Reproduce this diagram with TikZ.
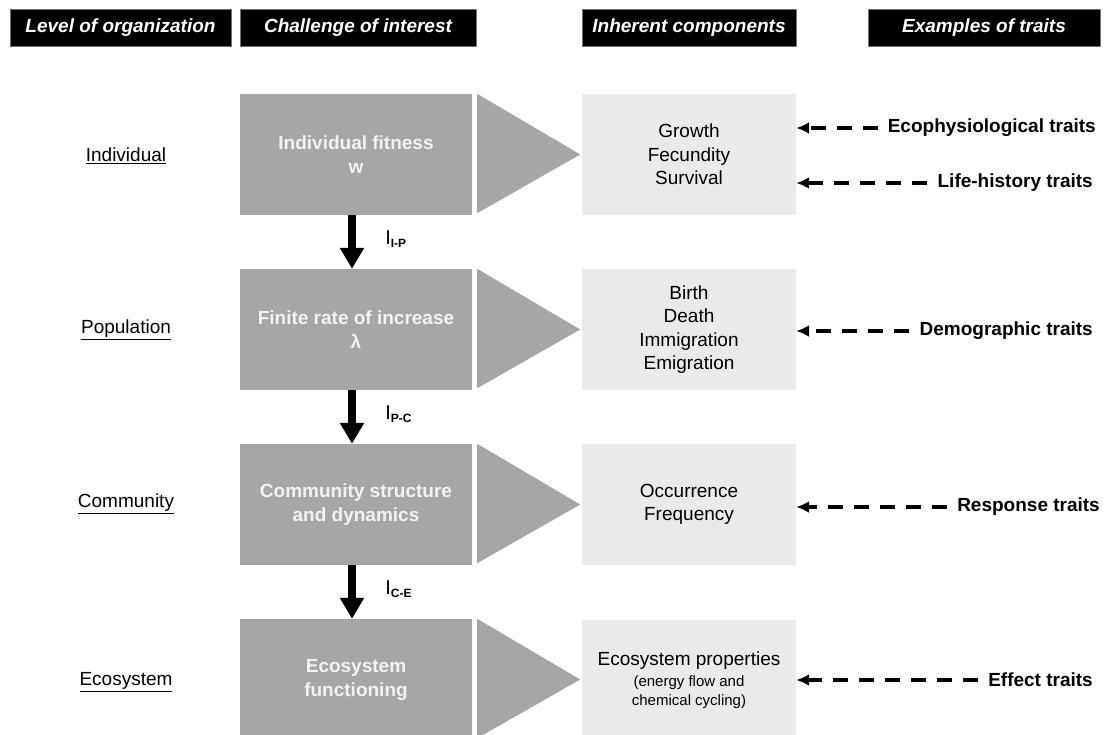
\documentclass[tikz,border=0pt]{standalone}
\usepackage{fontspec}
\setmainfont{Liberation Sans}
\usepackage{tikz}
\usetikzlibrary{arrows.meta, positioning, calc}
\definecolor{challengegray}{RGB}{166,166,166}
\definecolor{componentgray}{RGB}{234,234,234}
\definecolor{challengetext}{RGB}{243,243,243}

\tikzset{
    header/.style={fill=black, draw=black!55, line width=0.8pt, text=white, minimum height=37pt,
          inner sep=0pt, font=\fontsize{19}{22}\selectfont\bfseries\itshape},
    challenge/.style={fill=challengegray, text=challengetext, minimum width=232pt, minimum height=121pt,
          inner sep=0pt, align=center, font=\fontsize{19}{24}\selectfont\bfseries},
    component/.style={fill=componentgray, minimum width=214pt, minimum height=121pt,
          inner sep=0pt, align=center, font=\fontsize{19}{23.5}\selectfont},
    level/.style={font=\fontsize{19}{22}\selectfont},
    trait/.style={anchor=east, inner sep=0pt, font=\fontsize{19}{22}\selectfont\bfseries},
    traitarrow/.style={line width=3.5pt, dash pattern=on 15pt off 11pt, shorten <=10pt,
          -{Latex[length=13pt,width=12pt]}},
    levelarrow/.style={line width=8pt, -{Triangle[length=21pt,width=23pt]}},
}

\begin{document}
\begin{tikzpicture}[x=1pt, y=-1pt]
    \useasboundingbox (0,0) rectangle (1105,735);

    \node[header, minimum width=221pt] (h1) at (120.5,28) {Level of organization};
    \node[header, minimum width=236pt] (h2) at (358,28) {Challenge of interest};
    \node[header, minimum width=214pt] (h3) at (689,28) {Inherent components};
    \node[header, minimum width=232pt] (h4) at (984,28) {Examples of traits};

    \node[level] (l1) at (126,156) {\underline{Individual}};
    \node[level] (l2) at (126,330) {\underline{Population}};
    \node[level] (l3) at (126,504) {\underline{Community}};
    \node[level] (l4) at (126,682) {\underline{Ecosystem}};

    \node[challenge] (g1) at (356,154.5) {Individual fitness\\w};
    \node[challenge] (g2) at (356,329.5) {Finite rate of increase\\λ};
    \node[challenge] (g3) at (356,504.5) {Community structure\\and dynamics};
    \node[challenge] (g4) at (356,679.5) {Ecosystem\\functioning};

    \foreach \n in {1,...,4}
        \fill[challengegray] ($(g\n.north east)+(5,0)$) -- ($(g\n.east)+(108,0)$)
            -- ($(g\n.south east)+(5,-2)$) -- cycle;

    \node[component] (c1) at (689,154.5) {Growth\\Fecundity\\Survival};
    \node[component] (c2) at (689,329.5) {Birth\\Death\\Immigration\\Emigration};
    \node[component] (c3) at (689,504.5) {Occurrence\\Frequency};
    \node[component] (c4) at (689,680.5) {Ecosystem properties\\[-3pt]
        {\fontsize{15}{18}\selectfont (energy flow and}\\[-4pt]
        {\fontsize{15}{18}\selectfont chemical cycling)}};

    \draw[levelarrow] ([xshift=-4pt]g1.south) -- node[midway, right=26pt, yshift=3pt]
        {\fontsize{20}{22}\selectfont I\raisebox{-3pt}{\fontsize{12}{12}\selectfont\bfseries I-P}} ([xshift=-4pt]g2.north);
    \draw[levelarrow] ([xshift=-4pt]g2.south) -- node[midway, right=26pt, yshift=3pt]
        {\fontsize{20}{22}\selectfont I\raisebox{-3pt}{\fontsize{12}{12}\selectfont\bfseries P-C}} ([xshift=-4pt]g3.north);
    \draw[levelarrow] ([xshift=-4pt]g3.south) -- node[midway, right=26pt, yshift=3pt]
        {\fontsize{20}{22}\selectfont I\raisebox{-3pt}{\fontsize{12}{12}\selectfont\bfseries C-E}} ([xshift=-4pt]g4.north);

    \node[trait] (t1) at (1096,128) {Ecophysiological traits};
    \node[trait] (t2) at (1093,183) {Life-history traits};
    \node[trait] (t3) at (1093,331) {Demographic traits};
    \node[trait] (t4) at (1100,507) {Response traits};
    \node[trait] (t5) at (1093,680) {Effect traits};

    \draw[traitarrow] (t1.west) -- (c1.east |- t1.west);
    \draw[traitarrow] (t2.west) -- (c1.east |- t2.west);
    \draw[traitarrow] (t3.west) -- (c2.east |- t3.west);
    \draw[traitarrow] (t4.west) -- (c3.east |- t4.west);
    \draw[traitarrow] (t5.west) -- (c4.east |- t5.west);
\end{tikzpicture}
\end{document}
